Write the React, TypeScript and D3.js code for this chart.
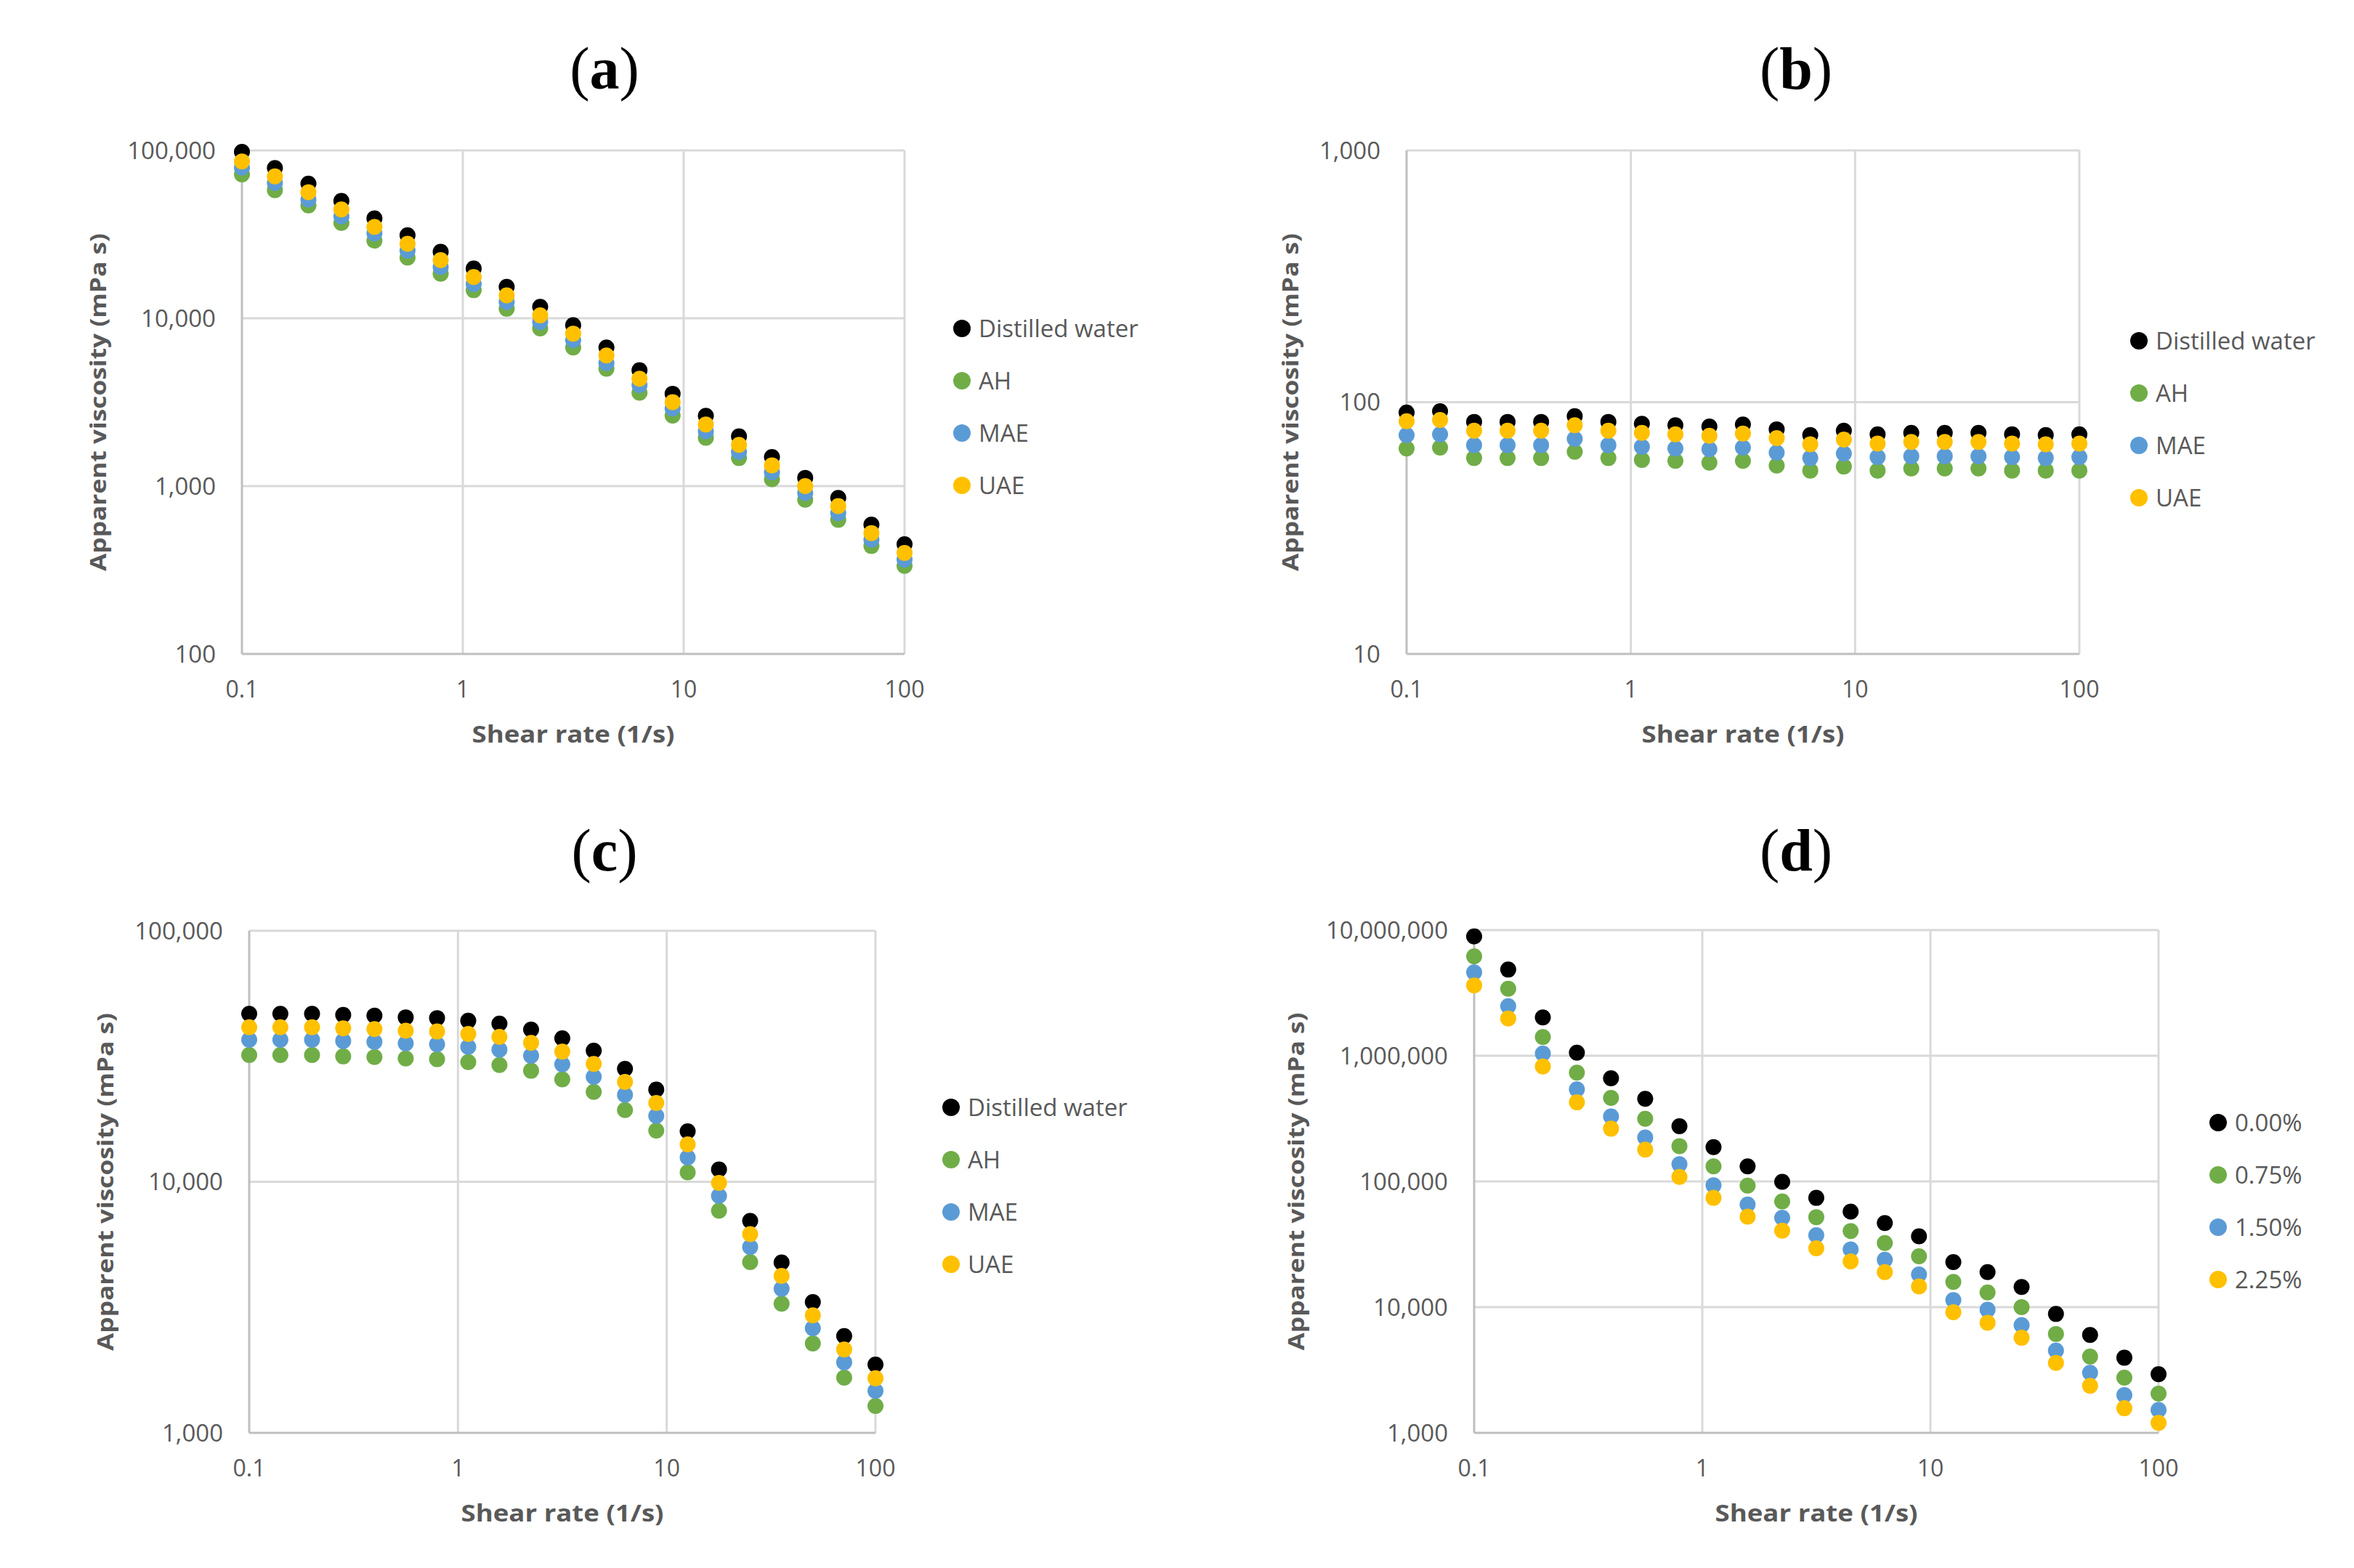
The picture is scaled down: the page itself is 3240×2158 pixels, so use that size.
import * as d3 from "d3";

// shear rate (1/s), shared by all four panels
const shearRate = [0.1, 0.141, 0.2, 0.282, 0.398, 0.562, 0.794, 1.12, 1.58, 2.24, 3.16, 4.47, 6.31, 8.91, 12.6, 17.8, 25.1, 35.5, 50.1, 70.8, 100];

const solventLabels = ["Distilled water", "AH", "MAE", "UAE"];
const concLabels = ["0.00%", "0.75%", "1.50%", "2.25%"];
const seriesColors = ["#000000", "#70ad47", "#5b9bd5", "#ffc000"];

// (a)
const aWater = [98000, 78500, 63400, 50000, 39400, 31200, 24900, 19800, 15400, 11700, 9100, 6700, 4900, 3550, 2620, 1980, 1490, 1120, 850, 590, 450];
const aAH = [72000, 58000, 47000, 37000, 29000, 23000, 18400, 14700, 11400, 8700, 6700, 5000, 3600, 2630, 1940, 1470, 1100, 830, 630, 440, 335];
const aMAE = [79000, 64000, 51000, 40500, 32000, 25300, 20200, 16000, 12500, 9500, 7400, 5400, 4000, 2900, 2120, 1600, 1210, 910, 690, 480, 365];
const aUAE = [86000, 70000, 56400, 44500, 35000, 27800, 22200, 17600, 13700, 10400, 8100, 6000, 4360, 3160, 2330, 1760, 1330, 1000, 760, 525, 400];

// (b)
const bWater = [91, 92, 83.5, 83.5, 83.5, 88, 83.5, 82, 81, 80, 81.5, 78, 74, 77, 74.5, 75.5, 75.5, 75.5, 74.5, 74, 74.5];
const bAH = [65.5, 66, 60, 60, 60, 63.5, 60, 59, 58.5, 57.5, 58.5, 56, 53.5, 55.5, 53.5, 54.5, 54.5, 54.5, 53.5, 53.5, 53.5];
const bMAE = [74, 74.5, 67.5, 67.5, 67.5, 71.5, 67.5, 66.5, 65.5, 65, 66, 63, 60, 62.5, 60.5, 61, 61, 61, 60.5, 60, 60.5];
const bUAE = [84, 85, 77, 77, 77, 81, 77, 75.5, 74.5, 73.5, 75, 72, 68, 71, 68.5, 69.5, 69.5, 69.5, 68.5, 68, 68.5];

// (c)
const cWater = [46700, 46700, 46700, 46200, 45900, 45200, 44900, 43800, 42700, 40400, 37300, 33300, 28200, 23300, 15900, 11200, 6990, 4770, 3320, 2430, 1870];
const cAH = [32000, 32000, 32000, 31600, 31400, 31000, 30800, 30000, 29200, 27700, 25600, 22800, 19300, 16000, 10900, 7670, 4790, 3270, 2270, 1660, 1280];
const cMAE = [36800, 36800, 36800, 36400, 36100, 35600, 35300, 34500, 33600, 31800, 29400, 26200, 22200, 18300, 12500, 8800, 5500, 3750, 2610, 1910, 1470];
const cUAE = [41300, 41300, 41300, 40900, 40600, 40000, 39700, 38800, 37800, 35800, 33000, 29500, 25000, 20600, 14100, 9900, 6190, 4220, 2940, 2150, 1650];

// (d)
const d000 = [8910000, 4850000, 2020000, 1057000, 662000, 454000, 275000, 187500, 131800, 99400, 74000, 57600, 46700, 36600, 22800, 19000, 14460, 8830, 6010, 3960, 2930];
const d075 = [6180000, 3410000, 1410000, 733000, 462000, 315000, 191000, 131800, 92700, 69300, 52000, 40300, 32400, 25400, 15900, 13100, 10000, 6120, 4040, 2750, 2050];
const d150 = [4600000, 2480000, 1040000, 540000, 329000, 224000, 137000, 93100, 65500, 51400, 37300, 28800, 23800, 18200, 11400, 9530, 7190, 4510, 3010, 2000, 1520];
const d225 = [3630000, 1980000, 822000, 426000, 263000, 179000, 108700, 74000, 52400, 40600, 29400, 23100, 19000, 14600, 9120, 7520, 5710, 3600, 2370, 1570, 1200];

const xTicks = [0.1, 1, 10, 100];

interface PanelProps {
  letter: string;
  titleX: number;
  titleY: number;
  left: number;
  right: number;
  top: number;
  bottom: number;
  yDomain: [number, number];
  yTicks: number[];
  series: number[][];
  labels: string[];
  legendX: number;
  legendY: number;
  yTitleX: number;
}

const grey = "#595959";
const font = "'Open Sans', 'Liberation Sans', sans-serif";

function Panel(p: PanelProps) {
  const x = d3.scaleLog().domain([0.1, 100]).range([p.left, p.right]);
  const y = d3.scaleLog().domain(p.yDomain).range([p.bottom, p.top]);
  const fmt = d3.format(",");
  const cx = (p.left + p.right) / 2;
  const cy = (p.top + p.bottom) / 2;

  return (
    <g>
      <text x={p.titleX} y={p.titleY} textAnchor="middle" fontFamily="'Liberation Serif', serif" fontSize={82} fill="#000">
        (<tspan fontWeight="bold">{p.letter}</tspan>)
      </text>

      {/* grid */}
      {p.yTicks.slice(1).map(t => (
        <line key={"h" + t} x1={p.left} x2={p.right} y1={y(t)} y2={y(t)} stroke="#d9d9d9" strokeWidth={3} />
      ))}
      {xTicks.slice(1).map(t => (
        <line key={"v" + t} x1={x(t)} x2={x(t)} y1={p.top} y2={p.bottom} stroke="#d9d9d9" strokeWidth={3} />
      ))}
      {/* axes */}
      <line x1={p.left} x2={p.left} y1={p.top} y2={p.bottom} stroke="#bfbfbf" strokeWidth={3} />
      <line x1={p.left} x2={p.right} y1={p.bottom} y2={p.bottom} stroke="#bfbfbf" strokeWidth={3} />

      {p.yTicks.map(t => (
        <text key={"yl" + t} x={p.left - 36} y={y(t)} dy="0.35em" textAnchor="end" fontFamily={font} fontSize={33} fill={grey}>
          {fmt(t)}
        </text>
      ))}
      {xTicks.map(t => (
        <text key={"xl" + t} x={x(t)} y={p.bottom + 60} textAnchor="middle" fontFamily={font} fontSize={32} fill={grey}>
          {String(t)}
        </text>
      ))}

      <text x={cx} y={p.bottom + 122} textAnchor="middle" fontFamily={font} fontWeight="bold" fontSize={33} fill={grey}
        textLength={279} lengthAdjust="spacingAndGlyphs">
        Shear rate (1/s)
      </text>
      <text transform={`translate(${p.yTitleX},${cy}) rotate(-90)`} textAnchor="middle" dy="0.35em" fontFamily={font}
        fontWeight="bold" fontSize={31} fill={grey} textLength={465} lengthAdjust="spacingAndGlyphs">
        Apparent viscosity (mPa s)
      </text>

      {p.series.map((vals, si) => (
        <g key={"s" + si} fill={seriesColors[si]}>
          {vals.map((v, i) => (
            <circle key={i} cx={x(shearRate[i])} cy={y(v)} r={11} />
          ))}
        </g>
      ))}

      {p.labels.map((lab, i) => (
        <g key={"lg" + i} transform={`translate(${p.legendX},${p.legendY + i * 72})`}>
          <circle r={12} fill={seriesColors[i]} />
          <text x={23} dy="0.35em" fontFamily={font} fontSize={33} fill={grey}>{lab}</text>
        </g>
      ))}
    </g>
  );
}

export default function App() {
  return (
    <svg width={3240} height={2158} viewBox="0 0 3240 2158" style={{ position: "absolute", left: 0, top: 0, background: "#fff" }}>
      <rect width={3240} height={2158} fill="#fff" />
      <Panel letter="a" titleX={832} titleY={122} left={333} right={1245} top={207} bottom={900}
        yDomain={[100, 100000]} yTicks={[100, 1000, 10000, 100000]}
        series={[aWater, aAH, aMAE, aUAE]} labels={solventLabels} legendX={1324} legendY={452} yTitleX={135} />
      <Panel letter="b" titleX={2472} titleY={122} left={1936} right={2862} top={207} bottom={900}
        yDomain={[10, 1000]} yTicks={[10, 100, 1000]}
        series={[bWater, bAH, bMAE, bUAE]} labels={solventLabels} legendX={2944} legendY={469} yTitleX={1776} />
      <Panel letter="c" titleX={832} titleY={1198} left={343} right={1205} top={1281} bottom={1972}
        yDomain={[1000, 100000]} yTicks={[1000, 10000, 100000]}
        series={[cWater, cAH, cMAE, cUAE]} labels={solventLabels} legendX={1309} legendY={1524} yTitleX={145} />
      <Panel letter="d" titleX={2472} titleY={1198} left={2029} right={2971} top={1280} bottom={1972}
        yDomain={[1000, 10000000]} yTicks={[1000, 10000, 100000, 1000000, 10000000]}
        series={[d000, d075, d150, d225]} labels={concLabels} legendX={3053} legendY={1545} yTitleX={1784} />
    </svg>
  );
}
